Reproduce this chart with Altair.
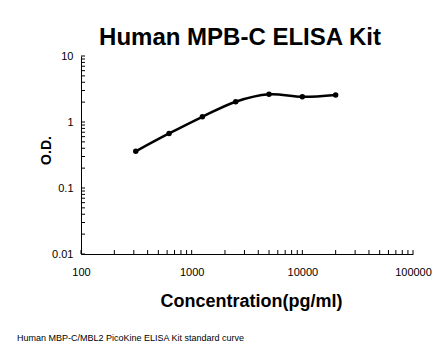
import altair as alt
import pandas as pd

conc = [312.5, 625, 1250, 2500, 5000, 10000, 20000]
od = [0.36, 0.67, 1.20, 2.03, 2.63, 2.41, 2.57]

x_major = [100, 1000, 10000, 100000]
y_major = [0.01, 0.1, 1, 10]
x_minor = [m * d for d in [100, 1000, 10000] for m in range(1, 10)] + [100000]
y_minor = [round(m * d, 4) for d in [0.01, 0.1, 1] for m in range(1, 10)] + [10]

df = pd.DataFrame({"conc": conc, "od": od})

FONT = "Liberation Sans"
W, H = 332, 198
TICK = 4

xs = alt.Scale(type="log", domain=[100, 100000], nice=False)
ys = alt.Scale(type="log", domain=[0.01, 10], nice=False)

base = alt.Chart(df)

line = base.mark_line(color="black", strokeWidth=2.5, interpolate="catmull-rom").encode(
    x=alt.X("conc:Q", scale=xs, axis=alt.Axis(
        values=x_major, ticks=False, labelPadding=12, labelFont=FONT, labelFontSize=11,
        labelColor="black", labelFlush=False, domainColor="black", grid=False, format="d",
        title="Concentration(pg/ml)", titleFont=FONT, titleFontSize=18, titleFontWeight="bold",
        titleColor="black", titleX=170, titleY=52, titleAlign="center",
        titleBaseline="alphabetic")),
    y=alt.Y("od:Q", scale=ys, axis=alt.Axis(
        values=y_major, ticks=False, labelPadding=8, labelFont=FONT, labelFontSize=11,
        labelColor="black", labelFlush=False, domainColor="black", grid=False,
        labelExpr="format(datum.value, '')",
        title="O.D.", titleFont=FONT, titleFontSize=14, titleFontWeight="bold",
        titleColor="black", titleX=-31, titleY=94, titleAlign="center",
        titleBaseline="alphabetic", titleAngle=270)),
)

pts = base.mark_circle(color="black", size=30, opacity=1).encode(
    x=alt.X("conc:Q", scale=xs),
    y=alt.Y("od:Q", scale=ys),
)

xt = alt.Chart(pd.DataFrame({"v": x_minor})).mark_rule(color="black", strokeWidth=1).encode(
    x=alt.X("v:Q", scale=xs), y=alt.value(H - TICK), y2=alt.value(H))
yt = alt.Chart(pd.DataFrame({"v": y_minor})).mark_rule(color="black", strokeWidth=1).encode(
    y=alt.Y("v:Q", scale=ys), x=alt.value(0), x2=alt.value(TICK))

foot = alt.Chart(pd.DataFrame({"t": ["Human MBP-C/MBL2 PicoKine ELISA Kit standard curve"]})).mark_text(
    align="left", baseline="middle", font=FONT, fontSize=9, color="black"
).encode(text="t:N", x=alt.value(-64), y=alt.value(282))

chart = alt.layer(line, pts, xt, yt, foot).properties(
    width=W, height=H,
    title=alt.TitleParams("Human MPB-C ELISA Kit", font=FONT, fontSize=24, fontWeight="bold",
                          color="black", anchor="middle", offset=0, dx=-7),
    autosize=alt.AutoSizeParams(type="none"),
    padding={"left": 73, "top": 48, "right": 25, "bottom": 92},
).configure(background="white").configure_view(strokeWidth=0, stroke="transparent")

chart.save("out.html", embed_options={"renderer": "svg", "actions": False})
